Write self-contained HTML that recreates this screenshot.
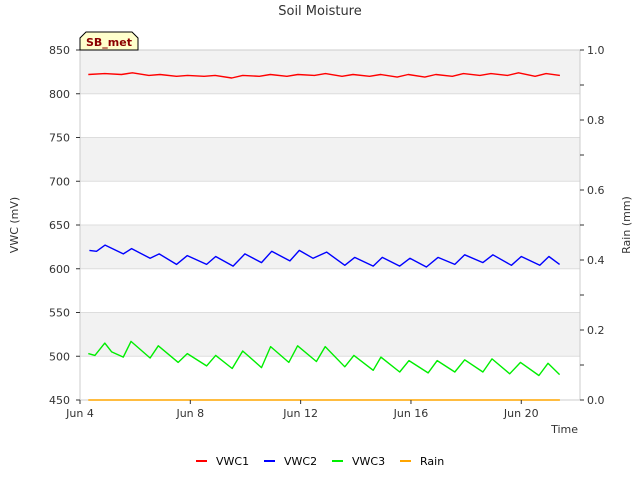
<!DOCTYPE html>
<html><head><meta charset="utf-8"><style>
body{margin:0;background:#fff;font-family:"Liberation Sans","DejaVu Sans",sans-serif}
svg text{font-family:"DejaVu Sans","Liberation Sans",sans-serif}
</style></head><body>
<svg id="chart" width="640" height="480" viewBox="0 0 640 480" xmlns="http://www.w3.org/2000/svg">
<rect width="640" height="480" fill="#fff"/>
<text x="320" y="15" text-anchor="middle" font-size="13" fill="#333">Soil Moisture</text>
<g id="bands"></g>
<g id="grid"></g>
<rect x="80" y="50" width="500" height="350" fill="none" stroke="#ccc"/>
<g id="series"></g>
<g id="axes" font-size="11" fill="#333"></g>
<text transform="translate(18,225) rotate(-90)" text-anchor="middle" font-size="11" fill="#333">VWC (mV)</text>
<text transform="translate(630,225) rotate(-90)" text-anchor="middle" font-size="11" fill="#333">Rain (mm)</text>
<text x="578" y="433" text-anchor="end" font-size="11" fill="#333">Time</text>
<g id="badge">
<path d="M86,32 L132,32 L138,38 L138,50 L80,50 L80,38 Z" fill="#ffffcc" stroke="#000"/>
<text x="109" y="46" text-anchor="middle" font-size="11" font-weight="bold" fill="#8b0000">SB_met</text>
</g>
<g id="legend" font-size="11" fill="#000"></g>
</svg>
<script>
const yTicks=[450,500,550,600,650,700,750,800,850];
const y2Ticks=[0,0.1,0.2,0.3,0.4,0.5,0.6,0.7,0.8,0.9,1.0];
const xTickDays=[4,8,12,16,20];
const xTickLabels=["Jun 4","Jun 8","Jun 12","Jun 16","Jun 20"];
const vwc1Days=[4.3,4.9,5.5,5.9,6.5,6.9,7.5,7.9,8.5,8.9,9.5,9.9,10.5,10.9,11.5,11.9,12.5,12.9,13.5,13.9,14.5,14.9,15.5,15.9,16.5,16.9,17.5,17.9,18.5,18.9,19.5,19.9,20.5,20.9,21.4];
const vwc1Vals=[822,823,822,824,821,822,820,821,820,821,818,821,820,822,820,822,821,823,820,822,820,822,819,822,819,822,820,823,821,823,821,824,820,823,821];
const vwc2Days=[4.34,4.6,4.91,5.57,5.87,6.54,6.87,7.5,7.89,8.59,8.92,9.55,9.98,10.58,10.95,11.61,11.95,12.45,12.94,13.6,13.96,14.63,14.96,15.59,15.96,16.56,16.98,17.59,17.95,18.61,18.97,19.64,20.0,20.67,21.0,21.39];
const vwc2Vals=[621,620,627,617,623,612,617,605,615,605,614,603,617,607,620,609,621,612,619,604,613,603,613,603,612,602,613,605,616,607,616,604,614,604,614,605];
const vwc3Days=[4.3,4.54,4.9,5.15,5.57,5.85,6.54,6.84,7.56,7.89,8.59,8.92,9.52,9.9,10.58,10.91,11.57,11.89,12.57,12.89,13.6,13.93,14.63,14.91,15.59,15.93,16.62,16.95,17.59,17.95,18.61,18.94,19.58,19.97,20.64,20.97,21.39];
const vwc3Vals=[503,501,515,505,499,517,498,512,493,503,489,501,486,506,487,511,493,512,494,511,488,501,484,499,482,495,481,495,482,496,482,497,480,493,478,492,479];
const rainDays=[4.3,21.4];
const rainVals=[0,0];
const NS="http://www.w3.org/2000/svg";
const X0=80,X1=580,Y0=50,Y1=400,D0=4,PXD=27.58;
const xs=d=>X0+(d-D0)*PXD;
const ys=v=>Y1-(v-450)/400*(Y1-Y0);
const y2s=v=>Y1-v*(Y1-Y0);
function mk(tag,attrs,parent){const e=document.createElementNS(NS,tag);for(const k in attrs)e.setAttribute(k,attrs[k]);parent.appendChild(e);return e;}
const bands=document.getElementById('bands'),grid=document.getElementById('grid'),axes=document.getElementById('axes'),ser=document.getElementById('series'),leg=document.getElementById('legend');
for(let i=0;i<yTicks.length-1;i++){
  if(i%2===1){const r=mk('rect',{x:X0,y:ys(yTicks[i+1]),width:X1-X0,height:ys(yTicks[i])-ys(yTicks[i+1]),fill:'#f2f2f2'},bands);
  
  }
}
yTicks.forEach(v=>{
  const l=mk('line',{x1:X0,x2:X1,y1:ys(v),y2:ys(v),stroke:'#ddd'},grid);
  
  
  mk('line',{x1:X0-4,x2:X0,y1:ys(v),y2:ys(v),stroke:'#333'},axes);
  const t=mk('text',{x:X0-10,y:ys(v)+4,'text-anchor':'end'},axes);t.textContent=v;
  
  
});
y2Ticks.forEach((v,i)=>{
  mk('line',{x1:X1,x2:X1+4,y1:y2s(v),y2:y2s(v),stroke:'#333'},axes);
  if(i%2===0){const t=mk('text',{x:X1+7,y:y2s(v)+4},axes);t.textContent=v.toFixed(1);
  
  }
});
xTickDays.forEach((d,i)=>{
  mk('line',{x1:xs(d),x2:xs(d),y1:Y1,y2:Y1+4,stroke:'#333'},axes);
  const t=mk('text',{x:xs(d),y:Y1+17,'text-anchor':'middle'},axes);t.textContent=xTickLabels[i];
  
  
});
function line(days,vals,scale,color,name){
  const p=mk('polyline',{points:days.map((d,i)=>xs(d).toFixed(1)+','+scale(vals[i]).toFixed(1)).join(' '),fill:'none',stroke:color,'stroke-width':1.4,'stroke-linejoin':'round'},ser);
  
  
}
line(rainDays,rainVals,y2s,'#ffa500','rain-line');
line(vwc1Days,vwc1Vals,ys,'#ff0000','vwc1-line');
line(vwc2Days,vwc2Vals,ys,'#0000ff','vwc2-line');
line(vwc3Days,vwc3Vals,ys,'#00ee00','vwc3-line');
document.getElementById('chart').appendChild(document.getElementById('badge'));
const legNames=["VWC1","VWC2","VWC3","Rain"],legColors=["#ff0000","#0000ff","#00ee00","#ffa500"],legX=[196,264,332,400];
legNames.forEach((n,i)=>{
  const g=mk('g',{},leg);
  
  
  mk('line',{x1:legX[i],x2:legX[i]+11,y1:461,y2:461,stroke:legColors[i],'stroke-width':2},g);
  const t=mk('text',{x:legX[i]+20,y:465},g);t.textContent=n;
});
</script>
</body></html>
